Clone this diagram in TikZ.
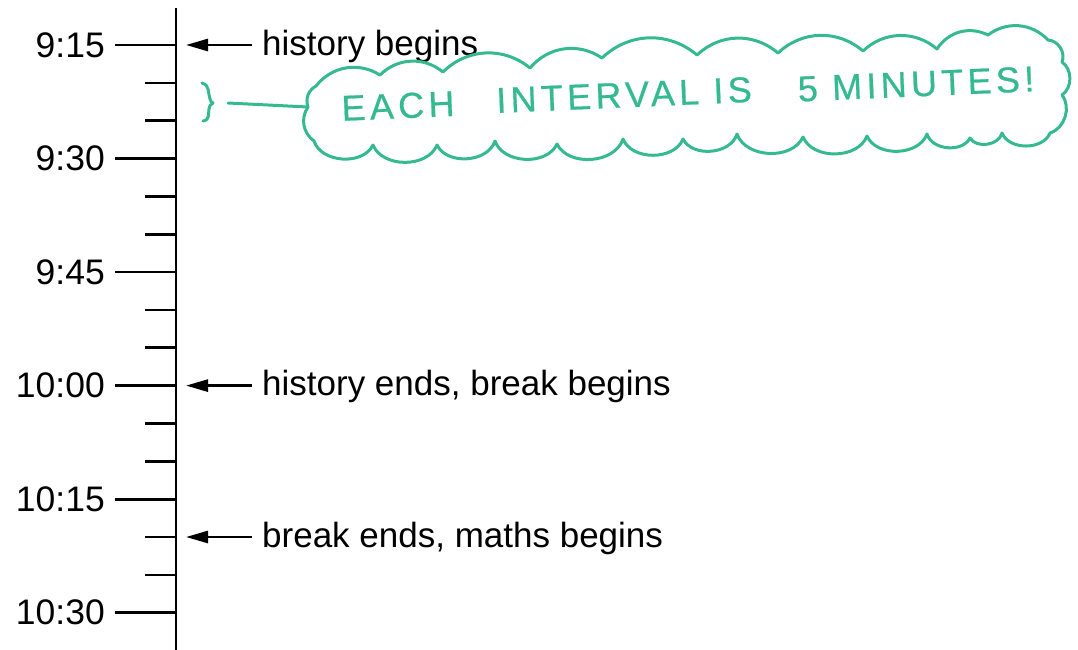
\documentclass[tikz,border=0pt]{standalone}
\usepackage{fontspec}
\setmainfont{Liberation Sans}
\newfontfamily\notefont[LetterSpace=12,FakeBold=0.6]{Liberation Sans}
\usetikzlibrary{arrows.meta}
\definecolor{pen}{RGB}{52,186,142}
\begin{document}
\begin{tikzpicture}[x=1pt,y=-1pt,
  axisline/.style={line width=2.7pt},
  tickline/.style={line width=2.7pt},
  lbl/.style={font=\fontsize{35.5}{40}\selectfont, inner sep=0pt, anchor=base east},
  evt/.style={font=\fontsize{35}{40}\selectfont, inner xsep=10pt, inner ysep=0pt, anchor=base west},
  arr/.style={line width=2.7pt, -{Triangle[length=22pt,width=12pt]}},
  ink/.style={draw=pen, line width=3pt, line cap=round, line join=round},
  note/.style={text=pen, font=\notefont\fontsize{36}{40}\selectfont, rotate=2.5, inner sep=0pt},
  topb/.style={bend left=42},
  sideb/.style={bend left=55},
  botb/.style={bend left=68}
]
\useasboundingbox (0,0) rectangle (1078,649);

% axis
\coordinate (top) at (176,8);
\coordinate (bot) at (176,652);
\draw[axisline] (top) -- (bot);

% ticks
\foreach \k in {0,...,15}{
  \pgfmathsetmacro\ty{45+37.85*\k}
  \pgfmathtruncatemacro\m{mod(\k,3)}
  \ifnum\m=0
    \draw[tickline] (115,\ty) -- (176,\ty);
  \else
    \draw[tickline] (145,\ty) -- (176,\ty);
  \fi
}

% time labels
\node[lbl] (t915)  at (105,57)     {9:15};
\node[lbl] (t930)  at (105,170.6)  {9:30};
\node[lbl] (t945)  at (105,284.1)  {9:45};
\node[lbl] (t1000) at (105,397.7)  {10:00};
\node[lbl] (t1015) at (105,511.2)  {10:15};
\node[lbl] (t1030) at (105,624.8)  {10:30};

% events
\coordinate (a1) at (186,45);
\coordinate (a2) at (186,385.6);
\coordinate (a3) at (186,537);
\node[evt] (e1) at (252,55)    {history begins};
\node[evt] (e2) at (252,395.6) {history ends, break begins};
\node[evt] (e3) at (252,547)   {break ends, maths begins};
\draw[arr] (e1.west |- a1) -- (a1);
\draw[arr] (e2.west |- a2) -- (a2);
\draw[arr] (e3.west |- a3) -- (a3);

% cloud
\coordinate (cl) at (308,107);
\draw[ink] (cl) to[bend left=40] (316,86)
  to[topb] (380,75) to[topb] (443,72) to[topb] (530,68) to[topb] (602,58)
  to[topb] (697,55) to[topb] (778,53) to[topb] (863,51) to[topb] (937,49)
  to[topb] (988,35) to[topb] (1048,40)
  to[sideb] (1062,62) to[sideb] (1062,95) to[sideb] (1050,133)
  to[botb] (1002,133) to[botb] (970,138) to[botb] (927,134) to[botb] (867,136)
  to[botb] (803,137) to[botb] (737,134) to[botb] (683,139) to[botb] (623,139)
  to[botb] (557,144) to[botb] (495,141) to[botb] (437,145) to[botb] (373,145)
  to[botb] (314,141) to[bend left=45] (cl);

% brace
\coordinate (bt) at (228,103);
\draw[ink] (202,83) .. controls (210,85) and (208,94) .. (210,99)
  .. controls (211,102) .. (213,103)
  .. controls (210,105) .. (209,109)
  .. controls (208,114) and (210,120) .. (203,121);
\draw[ink] (bt) -- (cl);

% note text
\node[note] (n1) at (398,106) {EACH};
\node[note] (n2) at (624,95)  {INTERVAL IS};
\node[note] (n3) at (916,84)  {5 MINUTES!};
\end{tikzpicture}
\end{document}
